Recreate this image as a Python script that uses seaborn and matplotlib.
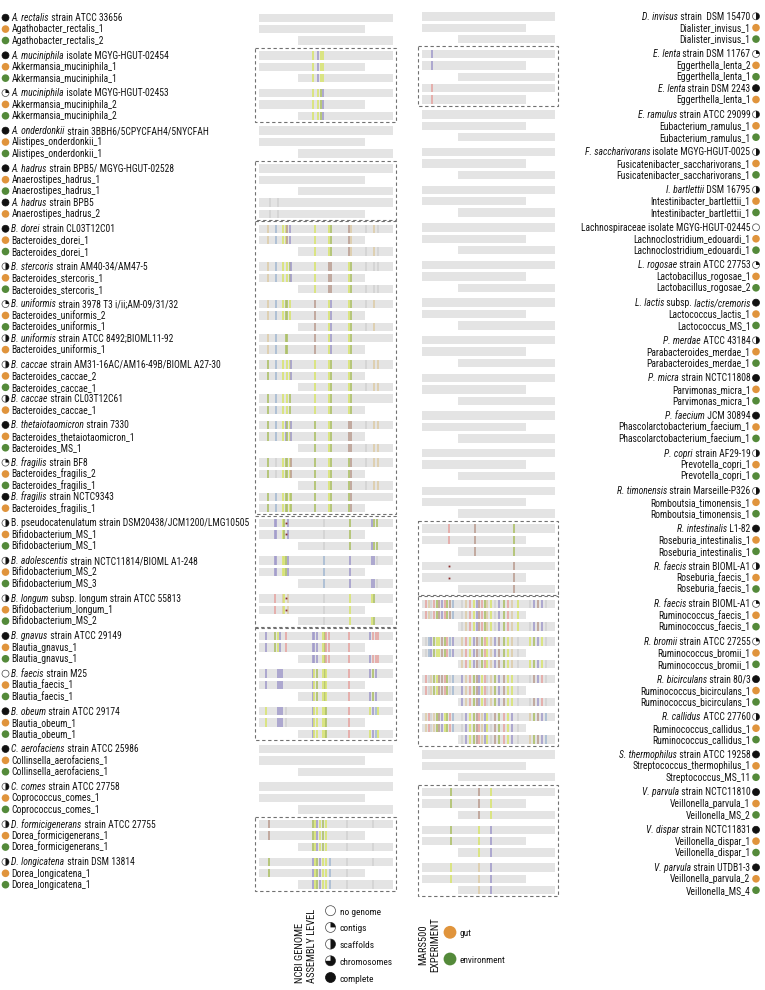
import matplotlib
matplotlib.use("Agg")
import matplotlib.pyplot as plt
from matplotlib import font_manager
from matplotlib.font_manager import FontProperties
from matplotlib.patches import Circle, Wedge, Rectangle
import numpy as np
import pandas as pd
import seaborn as sns

# ---- rows, left column ("|" separates italic / upright parts) ----
left_names = [
    "A. rectalis| strain ATCC 33656", "Agathobacter_rectalis_1", "Agathobacter_rectalis_2",
    "A. muciniphila| isolate MGYG-HGUT-02454", "Akkermansia_muciniphila_1", "Akkermansia_muciniphila_1",
    "A. muciniphila| isolate MGYG-HGUT-02453", "Akkermansia_muciniphila_2", "Akkermansia_muciniphila_2",
    "A. onderdonkii| strain 3BBH6/5CPYCFAH4/5NYCFAH", "Alistipes_onderdonkii_1", "Alistipes_onderdonkii_1",
    "A. hadrus| strain BPB5/ MGYG-HGUT-02528", "Anaerostipes_hadrus_1", "Anaerostipes_hadrus_1",
    "A. hadrus| strain BPB5", "Anaerostipes_hadrus_2",
    "B. dorei| strain CL03T12C01", "Bacteroides_dorei_1", "Bacteroides_dorei_1",
    "B. stercoris| strain AM40-34/AM47-5", "Bacteroides_stercoris_1", "Bacteroides_stercoris_1",
    "B. uniformis| strain 3978 T3 i/ii;AM-09/31/32", "Bacteroides_uniformis_2", "Bacteroides_uniformis_1",
    "B. uniformis| strain ATCC 8492;BIOML11-92", "Bacteroides_uniformis_1",
    "B. caccae| strain AM31-16AC/AM16-49B/BIOML A27-30", "Bacteroides_caccae_2", "Bacteroides_caccae_1",
    "B. caccae| strain CL03T12C61", "Bacteroides_caccae_1",
    "B. thetaiotaomicron| strain 7330", "Bacteroides_thetaiotaomicron_1", "Bacteroides_MS_1",
    "B. fragilis| strain BF8", "Bacteroides_fragilis_2", "Bacteroides_fragilis_1",
    "B. fragilis| strain NCTC9343", "Bacteroides_fragilis_1",
    "B. pseudocatenulatum strain DSM20438/JCM1200/LMG10505", "Bifidobacterium_MS_1", "Bifidobacterium_MS_1",
    "B. adolescentis| strain NCTC11814/BIOML A1-248", "Bifidobacterium_MS_2", "Bifidobacterium_MS_3",
    "B. longum| subsp. longum strain ATCC 55813", "Bifidobacterium_longum_1", "Bifidobacterium_MS_2",
    "B. gnavus| strain ATCC 29149", "Blautia_gnavus_1", "Blautia_gnavus_1",
    "B. faecis| strain M25", "Blautia_faecis_1", "Blautia_faecis_1",
    "B. obeum| strain ATCC 29174", "Blautia_obeum_1", "Blautia_obeum_1",
    "C. aerofaciens| strain ATCC 25986", "Collinsella_aerofaciens_1", "Collinsella_aerofaciens_1",
    "C. comes| strain ATCC 27758", "Coprococcus_comes_1", "Coprococcus_comes_1",
    "D. formicigenerans| strain ATCC 27755", "Dorea_formicigenerans_1", "Dorea_formicigenerans_1",
    "D. longicatena| strain DSM 13814", "Dorea_longicatena_1", "Dorea_longicatena_1",
]
# C complete, S scaffolds, T contigs, H chromosomes, N no genome, g gut, e environment
left_levels = ["C", "g", "e", "C", "g", "e", "T", "g", "e", "C", "g", "e",
               "C", "g", "e", "C", "g", "C", "g", "e", "S", "g", "e",
               "T", "g", "e", "S", "g", "S", "g", "e", "S", "g", "C", "g", "e",
               "T", "g", "e", "C", "g", "S", "g", "e", "S", "g", "e", "S", "g", "e",
               "C", "g", "e", "N", "g", "e", "C", "g", "e", "C", "g", "e",
               "S", "g", "e", "S", "g", "e", "S", "g", "e"]
left_group_sizes = [3, 3, 3, 3, 5, 3, 3, 5, 5, 3, 5, 3, 3, 3, 3, 3, 3, 3, 3, 3, 3]
left_boxes = [(1, 2), (4, 4), (5, 10), (11, 13), (14, 16), (19, 20)]

# ---- rows, right column ----
right_names = [
    "D. invisus| strain  DSM 15470", "Dialister_invisus_1", "Dialister_invisus_1",
    "E. lenta| strain DSM 11767", "Eggerthella_lenta_2", "Eggerthella_lenta_1",
    "E. lenta| strain DSM 2243", "Eggerthella_lenta_1",
    "E. ramulus| strain ATCC 29099", "Eubacterium_ramulus_1", "Eubacterium_ramulus_1",
    "F. saccharivorans| isolate MGYG-HGUT-0025", "Fusicatenibacter_saccharivorans_1", "Fusicatenibacter_saccharivorans_1",
    "I. bartlettii| DSM 16795", "Intestinibacter_bartlettii_1", "Intestinibacter_bartlettii_1",
    "Lachnospiraceae isolate MGYG-HGUT-02445", "Lachnoclostridium_edouardi_1", "Lachnoclostridium_edouardi_1",
    "L. rogosae| strain ATCC 27753", "Lactobacillus_rogosae_1", "Lactobacillus_rogosae_2",
    "L. lactis| subsp.| lactis/cremoris", "Lactococcus_lactis_1", "Lactococcus_MS_1",
    "P. merdae| ATCC 43184", "Parabacteroides_merdae_1", "Parabacteroides_merdae_1",
    "P. micra| strain NCTC11808", "Parvimonas_micra_1", "Parvimonas_micra_1",
    "P. faecium| JCM 30894", "Phascolarctobacterium_faecium_1", "Phascolarctobacterium_faecium_1",
    "P. copri| strain AF29-19", "Prevotella_copri_1", "Prevotella_copri_1",
    "R. timonensis| strain Marseille-P326", "Romboutsia_timonensis_1", "Romboutsia_timonensis_1",
    "R. intestinalis| L1-82", "Roseburia_intestinalis_1", "Roseburia_intestinalis_1",
    "R. faecis| strain BIOML-A1", "Roseburia_faecis_1", "Roseburia_faecis_1",
    "R. faecis| strain BIOML-A1", "Ruminococcus_faecis_1", "Ruminococcus_faecis_1",
    "R. bromii| strain ATCC 27255", "Ruminococcus_bromii_1", "Ruminococcus_bromii_1",
    "R. bicirculans| strain 80/3", "Ruminococcus_bicirculans_1", "Ruminococcus_bicirculans_1",
    "R. callidus| ATCC 27760", "Ruminococcus_callidus_1", "Ruminococcus_callidus_1",
    "S. thermophilus| strain ATCC 19258", "Streptococcus_thermophilus_1", "Streptococcus_MS_11",
    "V. parvula| strain NCTC11810", "Veillonella_parvula_1", "Veillonella_MS_2",
    "V. dispar| strain NCTC11831", "Veillonella_dispar_1", "Veillonella_dispar_1",
    "V. parvula| strain UTDB1-3", "Veillonella_parvula_2", "Veillonella_MS_4",
]
right_levels = ["S", "g", "e", "T", "g", "e", "C", "g",
                "S", "g", "e", "S", "g", "e", "S", "g", "e", "N", "g", "e",
                "T", "g", "e", "C", "g", "e", "S", "g", "e", "C", "g", "e",
                "C", "g", "e", "S", "g", "e", "S", "g", "e", "C", "g", "e",
                "S", "g", "e", "T", "g", "e", "T", "g", "e", "C", "g", "e",
                "S", "g", "e", "C", "g", "e", "C", "g", "e", "C", "g", "e", "C", "g", "e"]
right_group_sizes = [3, 5] + [3] * 21
right_boxes = [(1, 1), (13, 14), (15, 18), (20, 22)]

# ---- variant positions (fraction of genome) and colour codes per strain block ----
var_positions = {
    "muc": [0.40, 0.44, 0.46, 0.475],
    "had": [0.08, 0.14],
    "bac": [0.07, 0.13, 0.18, 0.20, 0.21, 0.23, 0.24, 0.42, 0.52, 0.54, 0.555, 0.67, 0.69, 0.80, 0.86, 0.89],
    "bif": [0.12, 0.13, 0.18, 0.19, 0.205, 0.22, 0.485, 0.51, 0.68, 0.84, 0.86, 0.88],
    "bla": [0.05, 0.12, 0.14, 0.16, 0.17, 0.20, 0.40, 0.41, 0.43, 0.475, 0.49, 0.50, 0.52, 0.67, 0.83, 0.85, 0.87, 0.89],
    "dor": [0.075, 0.40, 0.42, 0.435, 0.455, 0.475, 0.50, 0.53, 0.66, 0.85],
    "egg": [0.073],
    "ros": [0.20, 0.40, 0.69],
    "rum": [0.03, 0.05, 0.07, 0.09, 0.11, 0.13, 0.15, 0.17, 0.19, 0.21, 0.23, 0.30, 0.33, 0.36, 0.39, 0.41,
            0.43, 0.45, 0.47, 0.49, 0.52, 0.55, 0.58, 0.62, 0.65, 0.68, 0.72, 0.81, 0.84, 0.87, 0.90, 0.93],
    "vei": [0.22, 0.43, 0.52],
}
left_var_header = [3, 6, 12, 15, 17, 20, 23, 26, 28, 31, 33, 36, 39, 41, 44, 47, 50, 53, 56, 65, 68]
left_var_set = ["muc", "muc", "had", "had", "bac", "bac", "bac", "bac", "bac", "bac", "bac", "bac", "bac",
                "bif", "bif", "bif", "bla", "bla", "bla", "dor", "dor"]
left_var_code = ["ypyy", "yygp", "..", "ll",
                 "tbyymp.yyg.mtltl", "tby.ygpymm.yglll", "tbyggy.myp.yglt.", "tb.gg..myp.yg...",
                 "gby.yypyyg.ygltt", "gby.yg.yyg.yg...", "gbypgypgyg.mmltt", "glyggymgyg.gmltt",
                 "gbyggyggyg.gm...",
                 "ppyg.pl.gpgg", "ppyygpb.pppl", "k.ty.tl.yyg.",
                 "pgyp.kpppygkkkpkkk", "p.ppp.pygygy.kpgp.", "y.ppplpyyyyg.kypby",
                 "mgypygy.ll", "gpygpyybll"]
right_var_header = [3, 6, 41, 44, 47, 50, 53, 56, 62, 65, 68]
right_var_set = ["egg", "egg", "ros", "ros", "rum", "rum", "rum", "rum", "vei", "vei", "vei"]
right_var_code = ["p", "k", "kmg", "..m",
                  "ktlkgmpkgmb" + "ltkypmkgtylpgkty" + "lpmpl",
                  "lbpgyymgkbp" + "tkypmlgkytpmgytl" + "ygpyl",
                  "kltgymmkglb" + "ptkgmpykltgpmyyl" + "lmpkl",
                  "tkltgmpygkb" + "lpygmktpylmgkypl" + "tgmpb",
                  "gmy", "gyp", "ytp"]
# small indel marks: (row, position)
left_dots = [(41, 0.205), (42, 0.205), (47, 0.205), (48, 0.205)]
right_dots = [(44, 0.20), (45, 0.20)]

var_colors = {"y": "#d9e470", "g": "#adc068", "p": "#a39ccb", "m": "#bc9f93", "b": "#a6bbd3",
              "t": "#ddcca8", "k": "#e6a6a3", "l": "#d3d3d3", "o": "#e9b37a"}
level_fill = {"N": 0.0, "T": 0.25, "S": 0.5, "H": 0.75, "C": 1.0}
legend_levels = ["N", "T", "S", "H", "C"]
legend_level_text = ["no genome", "contigs", "scaffolds", "chromosomes", "complete"]
gut_color = "#e0943c"
env_color = "#548a3a"

# ---- fonts: pick a narrow face if one is installed ----
sns.set_theme(style="white")
CONDENSED = ("condensed", "semi-condensed", "extra-condensed", "ultra-condensed")


def pick_font():
    fl = font_manager.fontManager.ttflist
    for key in ["Liberation Sans Narrow", "Roboto Condensed", "Open Sans Condensed",
                "Noto Sans Condensed", "DejaVu Sans Condensed"]:
        if any(f.name == key for f in fl):
            return key, "normal"
    for fam in ["Noto Sans", "Roboto", "Open Sans", "DejaVu Sans"]:
        for f in fl:
            if f.name == fam and f.stretch in CONDENSED:
                return fam, f.stretch
    return "DejaVu Sans", "normal"


FONT, STRETCH = pick_font()
plt.rcParams["font.family"] = [FONT, "DejaVu Sans"]

ROW, GAP = 11.4, 3.45
BAR_H = 8.4
TXT = "#141414"

fig = plt.figure(figsize=(7.65, 9.9), dpi=100)
ax0 = fig.add_axes([0, 0, 1, 1])
ax0.set_xlim(0, 765)
ax0.set_ylim(990, 0)
ax0.axis("off")
renderer = fig.canvas.get_renderer()


def text_width(s, fp):
    t = ax0.text(0, 500, s, fontproperties=fp)
    w = t.get_window_extent(renderer).width
    t.remove()
    return w


# size each font so a known text spans its width in the reference
probe = FontProperties(family=FONT, stretch=STRETCH, size=10)
lab_size = min(7.6, 10 * 199 / text_width("A. onderdonkii strain 3BBH6/5CPYCFAH4/5NYCFAH", probe))
leg_size = min(9.0, 10 * 52.7 / text_width("chromosomes", probe))
head_size = min(10.0, 10 * 75 / text_width("ASSEMBLY LEVEL", probe))
fp_rm = FontProperties(family=FONT, stretch=STRETCH, size=lab_size)
fp_it = FontProperties(family=FONT, stretch=STRETCH, style="italic", size=lab_size)
fp_leg = FontProperties(family=FONT, stretch=STRETCH, size=leg_size)
fp_head = FontProperties(family=FONT, stretch=STRETCH, size=head_size)


def draw_label(x, y, label, ha):
    parts = label.split("|")
    italic = [len(parts) > 1 and i % 2 == 0 for i in range(len(parts))]
    segs = list(zip(parts, italic))
    if ha == "right":
        segs = segs[::-1]
    cur = x
    for seg, it in segs:
        t = ax0.text(cur, y, seg, ha=ha, va="baseline", fontproperties=fp_it if it else fp_rm, color=TXT)
        bb = t.get_window_extent(renderer)
        cur = bb.x1 if ha == "left" else bb.x0


def layout(sizes, top):
    ys, grp = [], []
    y = top
    for gi, n in enumerate(sizes):
        for _ in range(n):
            ys.append(y)
            grp.append(gi)
            y += ROW
        y += GAP
    return np.array(ys), np.array(grp)


def draw_icon(x, y, lev, r):
    frac = level_fill[lev]
    if frac >= 1:
        ax0.add_patch(Circle((x, y), r, fc="#111111", ec="#111111", lw=0.5))
        return
    ax0.add_patch(Circle((x, y), r, fc="white", ec="#444444", lw=0.5))
    if frac > 0:
        # y axis inverted: data angle -90 points up on screen
        ax0.add_patch(Wedge((x, y), r, -90, -90 + 360 * frac, fc="#111111", ec="none"))


def draw_column(names_, levels, sizes, boxes, top, panel_x, short_end, off_start,
                var_header, var_set, var_code, dots, side):
    ys, grp = layout(sizes, top)
    ax = fig.add_axes([panel_x[0] / 765, 0, (panel_x[1] - panel_x[0]) / 765, 1])
    ax.set_xlim(0, 1)
    ax.set_ylim(990, 0)
    ax.axis("off")

    lefts = np.array([off_start if lv == "e" else 0.0 for lv in levels])
    rights = np.array([short_end if lv == "g" else 1.0 for lv in levels])
    ax.barh(ys, rights - lefts, left=lefts, height=BAR_H, color="#e4e4e4", linewidth=0)

    # variant lines
    heads = [i for i, lv in enumerate(levels) if lv not in ("g", "e")]
    for h, vs, code in zip(var_header, var_set, var_code):
        nxt = [k for k in heads if k > h]
        end = min(nxt[0] if nxt else len(levels),
                  int(np.where(grp == grp[h])[0][-1]) + 1)
        for r in range(h, end):
            for p, c in zip(var_positions[vs], code):
                if c == "." or p < lefts[r] or p > rights[r]:
                    continue
                ax.vlines(p, ys[r] - BAR_H / 2, ys[r] + BAR_H / 2, color=var_colors[c], lw=1.2)
    for r, p in dots:
        ax.plot(p, ys[r], marker="s", ms=1.3, color="#8a2b2b", mec="none")

    # dashed boxes
    for g0, g1 in boxes:
        rows = np.where((grp >= g0) & (grp <= g1))[0]
        y0 = ys[rows[0]] - 7.5
        y1 = ys[rows[-1]] + 6.0
        ax.add_patch(Rectangle((-0.027, y0), 1.05, y1 - y0, fill=False, ec="#707070",
                               lw=0.8, ls=(0, (3, 2.4)), clip_on=False))

    # labels and icons
    if side == "left":
        mx, tx, ha = 5.5, 11.5, "left"
    else:
        mx, tx, ha = 756.0, 750.5, "right"
    marks = []
    for y, name, lv in zip(ys, names_, levels):
        draw_label(tx, y + 3.4, name, ha)
        if lv in ("g", "e"):
            marks.append({"x": mx, "y": y, "kind": "gut" if lv == "g" else "environment"})
        else:
            draw_icon(mx, y, lv, 3.5)
    return pd.DataFrame(marks)


d1 = draw_column(left_names, left_levels, left_group_sizes, left_boxes, 17.7, (259, 393), 0.79, 0.29,
                 left_var_header, left_var_set, left_var_code, left_dots, "left")
d2 = draw_column(right_names, right_levels, right_group_sizes, right_boxes, 16.3, (422, 555), 0.78, 0.27,
                 right_var_header, right_var_set, right_var_code, right_dots, "right")
pal = {"gut": gut_color, "environment": env_color}
sns.scatterplot(data=pd.concat([d1, d2]), x="x", y="y", hue="kind", palette=pal, s=30,
                linewidth=0, legend=False, ax=ax0)

# ---- legends ----
ax0.text(300.5, 983, "NCBI GENOME", rotation=90, ha="center", va="bottom", fontproperties=fp_head, color=TXT)
ax0.text(312.5, 983, "ASSEMBLY LEVEL", rotation=90, ha="center", va="bottom", fontproperties=fp_head, color=TXT)
for i, (lv, lab) in enumerate(zip(legend_levels, legend_level_text)):
    yy = 910.7 + i * 16.7
    draw_icon(330.5, yy, lv, 5.0)
    ax0.text(340, yy + 4.0, lab, ha="left", va="baseline", fontproperties=fp_leg, color=TXT)

ax0.text(423.5, 945, "MARS500", rotation=90, ha="center", va="center", fontproperties=fp_head, color=TXT)
ax0.text(435, 945, "EXPERIMENT", rotation=90, ha="center", va="center", fontproperties=fp_head, color=TXT)
leg = pd.DataFrame({"x": [450, 450], "y": [932.3, 959.0], "kind": ["gut", "environment"]})
sns.scatterplot(data=leg, x="x", y="y", hue="kind", palette=pal, s=85, linewidth=0,
                legend=False, ax=ax0)
ax0.text(460, 936, "gut", ha="left", va="baseline", fontproperties=fp_leg, color=TXT)
ax0.text(460, 962.7, "environment", ha="left", va="baseline", fontproperties=fp_leg, color=TXT)
ax0.set_xlim(0, 765)
ax0.set_ylim(990, 0)
ax0.axis("off")

fig.savefig("out.png", dpi=100, facecolor="white")
